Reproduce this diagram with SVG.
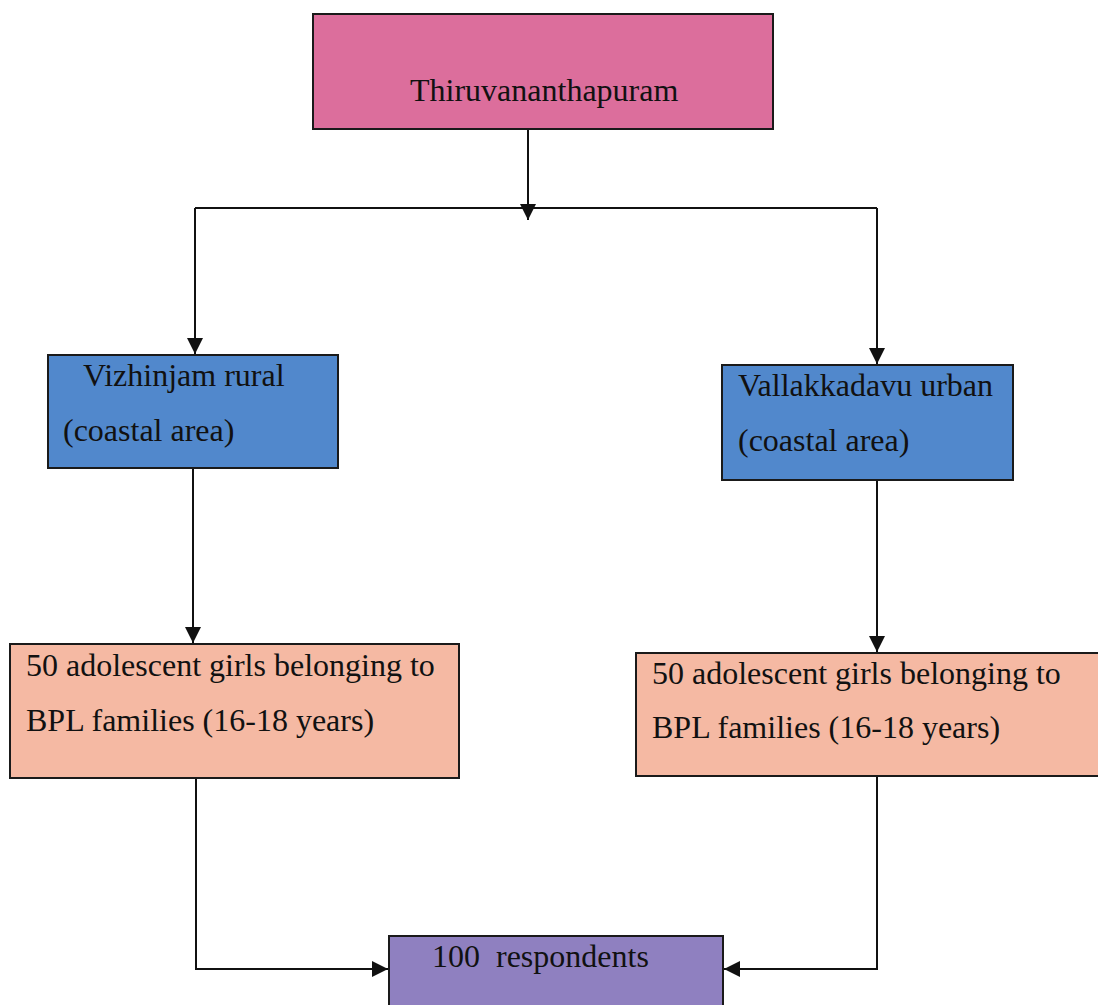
<svg xmlns="http://www.w3.org/2000/svg" width="1098" height="1005" viewBox="0 0 1098 1005">
<style>
  .box { stroke: #1a1a1a; stroke-width: 2; }
  .t { font-family: "Liberation Serif", "Times New Roman", serif; font-size: 32px; fill: #111; white-space: pre; }
  .c { fill: none; stroke: #111; stroke-width: 2; }
</style>
<defs>
  <marker id="arr" viewBox="0 0 10 10" refX="10" refY="5" markerWidth="8" markerHeight="8" orient="auto" markerUnits="strokeWidth">
    <path d="M0,0 L10,5 L0,10 Z" fill="#111"/>
  </marker>
</defs>
<rect width="1098" height="1005" fill="#ffffff"/>
<g id="connectors">
  <path class="c" d="M528,129 V220" marker-end="url(#arr)"/>
  <path class="c" d="M195,208 H877"/>
  <path class="c" d="M195,208 V354" marker-end="url(#arr)"/>
  <path class="c" d="M877,208 V364" marker-end="url(#arr)"/>
  <path class="c" d="M193,468 V643" marker-end="url(#arr)"/>
  <path class="c" d="M877,480 V652" marker-end="url(#arr)"/>
  <path class="c" d="M196,778 V969 H388" marker-end="url(#arr)"/>
  <path class="c" d="M877,776 V969 H724" marker-end="url(#arr)"/>
</g>
<g id="thiruvananthapuram">
  <rect class="box" x="313" y="14" width="460" height="115" fill="#dc6e9c"/>
  <text class="t" x="410" y="101">Thiruvananthapuram</text>
</g>
<g id="vizhinjam">
  <rect class="box" x="48" y="355" width="290" height="113" fill="#5188cc"/>
  <text class="t" x="83" y="386">Vizhinjam rural</text>
  <text class="t" x="63" y="441">(coastal area)</text>
</g>
<g id="vallakkadavu">
  <rect class="box" x="722" y="365" width="291" height="115" fill="#5188cc"/>
  <text class="t" x="738" y="396">Vallakkadavu urban</text>
  <text class="t" x="738" y="451">(coastal area)</text>
</g>
<g id="girls-left">
  <rect class="box" x="10" y="644" width="449" height="134" fill="#f5b9a3"/>
  <text class="t" x="26" y="676">50 adolescent girls belonging to</text>
  <text class="t" x="26" y="731">BPL families (16-18 years)</text>
</g>
<g id="girls-right">
  <rect class="box" x="636" y="653" width="470" height="123" fill="#f5b9a3"/>
  <text class="t" x="652" y="684">50 adolescent girls belonging to</text>
  <text class="t" x="652" y="738">BPL families (16-18 years)</text>
</g>
<g id="respondents">
  <rect class="box" x="389" y="936" width="334" height="80" fill="#8f80c0"/>
  <text class="t" x="432" y="967">100  respondents</text>
</g>
</svg>
